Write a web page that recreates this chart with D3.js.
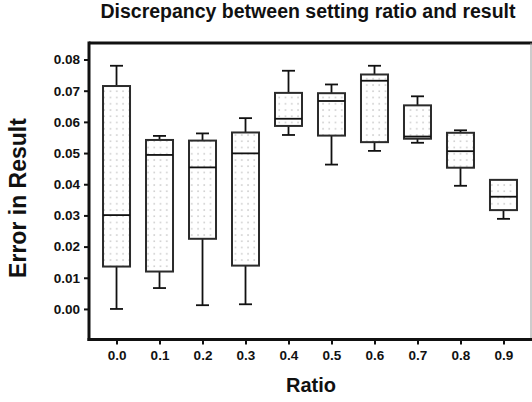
<html>
  <head>
    <title>Discrepancy box plot</title>
    <script type="text/javascript" src="https://cdn.jsdelivr.net/npm/d3@7"></script>
    <style type="text/css">
        body { margin: 0; background: white; }
        text { font-family: "Liberation Sans", Arial, sans-serif; font-weight: bold; fill: #111; }
        .box { stroke: #2b2b2b; stroke-width: 2; fill: url(#dots); }
        .whisker { stroke: #111; stroke-width: 1.8; }
        .median { stroke: #111; stroke-width: 1.8; }
    </style>
  </head>
  <body>
    <div id="chart-container"></div>
    <script type="text/javascript">
      // per-ratio box stats
      var categories = ["0.0", "0.1", "0.2", "0.3", "0.4", "0.5", "0.6", "0.7", "0.8", "0.9"];
      var whiskerLow  = [0.0000, 0.0067, 0.0012, 0.0015, 0.0558, 0.0463, 0.0507, 0.0533, 0.0395, 0.0289];
      var q1          = [0.0136, 0.0120, 0.0225, 0.0139, 0.0587, 0.0556, 0.0535, 0.0546, 0.0453, 0.0317];
      var median      = [0.0301, 0.0494, 0.0454, 0.0499, 0.0610, 0.0667, 0.0732, 0.0553, 0.0506, 0.0360];
      var q3          = [0.0715, 0.0542, 0.0540, 0.0566, 0.0693, 0.0692, 0.0752, 0.0653, 0.0565, 0.0414];
      var whiskerHigh = [0.0780, 0.0555, 0.0563, 0.0612, 0.0764, 0.0720, 0.0780, 0.0682, 0.0573, 0.0414];
      var yTicks = [0, 0.01, 0.02, 0.03, 0.04, 0.05, 0.06, 0.07, 0.08];

      var data = categories.map(function(c, i) {
          return { cat: c, lo: whiskerLow[i], q1: q1[i], med: median[i], q3: q3[i], hi: whiskerHigh[i] };
      });

      var w = 532, h = 402;
      var pLeft = 89, pRight = 531, pTop = 43, pBottom = 339.5;
      var boxW = 27, capW = 13;

      var svg = d3.select("#chart-container").append("svg")
          .attr("width", w)
          .attr("height", h);

      // dotted fill
      var pat = svg.append("defs").append("pattern")
          .attr("id", "dots")
          .attr("patternUnits", "userSpaceOnUse")
          .attr("x", 1.5).attr("y", 1)
          .attr("width", 6.25).attr("height", 6.25);
      pat.append("rect").attr("width", 6.25).attr("height", 6.25).attr("fill", "white");
      pat.append("rect").attr("x", 2).attr("y", 2).attr("width", 1.6).attr("height", 1.6).attr("fill", "#cfcfcf");

      var x = d3.scalePoint().domain(categories).range([pLeft, pRight]).padding(0.64);
      var y = d3.scaleLinear().domain([-0.0098, 0.0853]).range([pBottom, pTop]);

      // frame: top thick, right thin grey
      svg.append("line").attr("x1", pLeft).attr("x2", pRight + 1).attr("y1", pTop).attr("y2", pTop)
          .attr("stroke", "#111").attr("stroke-width", 3);
      svg.append("line").attr("x1", pRight).attr("x2", pRight).attr("y1", pTop).attr("y2", pBottom)
          .attr("stroke", "#999").attr("stroke-width", 1);

      var g = svg.selectAll("g.item").data(data).enter().append("g").attr("class", "item");

      // whiskers
      g.append("line").attr("class", "whisker")
          .attr("x1", function(d) { return x(d.cat); }).attr("x2", function(d) { return x(d.cat); })
          .attr("y1", function(d) { return y(d.hi); }).attr("y2", function(d) { return y(d.q3); });
      g.append("line").attr("class", "whisker")
          .attr("x1", function(d) { return x(d.cat); }).attr("x2", function(d) { return x(d.cat); })
          .attr("y1", function(d) { return y(d.q1); }).attr("y2", function(d) { return y(d.lo); });
      g.append("line").attr("class", "whisker")
          .attr("x1", function(d) { return x(d.cat) - capW / 2; }).attr("x2", function(d) { return x(d.cat) + capW / 2; })
          .attr("y1", function(d) { return y(d.hi); }).attr("y2", function(d) { return y(d.hi); });
      g.append("line").attr("class", "whisker")
          .attr("x1", function(d) { return x(d.cat) - capW / 2; }).attr("x2", function(d) { return x(d.cat) + capW / 2; })
          .attr("y1", function(d) { return y(d.lo); }).attr("y2", function(d) { return y(d.lo); });

      // boxes
      g.append("rect").attr("class", "box")
          .attr("x", function(d) { return x(d.cat) - boxW / 2; })
          .attr("y", function(d) { return y(d.q3); })
          .attr("width", boxW)
          .attr("height", function(d) { return y(d.q1) - y(d.q3); });
      g.append("line").attr("class", "median")
          .attr("x1", function(d) { return x(d.cat) - boxW / 2; }).attr("x2", function(d) { return x(d.cat) + boxW / 2; })
          .attr("y1", function(d) { return y(d.med); }).attr("y2", function(d) { return y(d.med); });

      // axes
      var yAxis = svg.append("g")
          .attr("transform", "translate(" + pLeft + ",0)")
          .call(d3.axisLeft(y).tickValues(yTicks).tickSize(5).tickPadding(4).tickFormat(d3.format(".2f")));
      var xAxis = svg.append("g")
          .attr("transform", "translate(0," + pBottom + ")")
          .call(d3.axisBottom(x).tickSize(5).tickPadding(6));
      [yAxis, xAxis].forEach(function(a) {
          a.attr("font-size", 13.5).attr("font-family", null);
          a.select(".domain").remove();
          a.selectAll(".tick line").attr("stroke", "#111").attr("stroke-width", 2);
          a.selectAll(".tick text").attr("fill", "#111").style("font-size", "13.5px");
      });
      svg.append("line").attr("x1", pLeft).attr("x2", pLeft).attr("y1", pTop - 1.5).attr("y2", pBottom + 1.5)
          .attr("stroke", "#111").attr("stroke-width", 3);
      svg.append("line").attr("x1", pLeft - 1.5).attr("x2", pRight + 1).attr("y1", pBottom).attr("y2", pBottom)
          .attr("stroke", "#111").attr("stroke-width", 3);

      // titles
      svg.append("text").attr("x", 308).attr("y", 17.5).attr("text-anchor", "middle")
          .style("font-size", "19.5px").text("Discrepancy between setting ratio and result");
      svg.append("text").attr("x", 311).attr("y", 392).attr("text-anchor", "middle")
          .style("font-size", "20px").text("Ratio");
      svg.append("text").attr("transform", "translate(26,198) rotate(-90)").attr("text-anchor", "middle")
          .style("font-size", "23px").text("Error in Result");
    </script>
  </body>
</html>
